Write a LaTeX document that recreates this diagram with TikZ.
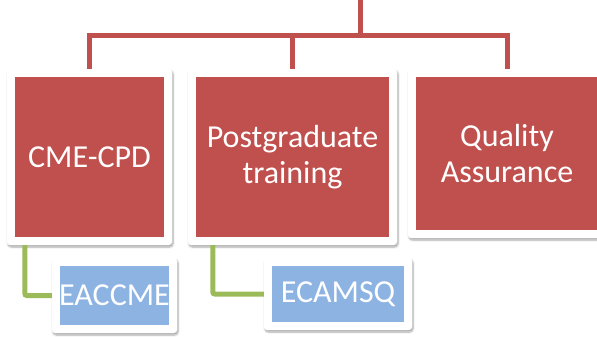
\documentclass[tikz,border=0pt]{standalone}
\usepackage{fontspec}
\setmainfont{Carlito}
\usetikzlibrary{shadows.blur}
\definecolor{boxred}{HTML}{C0504D}
\definecolor{boxblue}{HTML}{8DB3E2}
\definecolor{linkgreen}{HTML}{9BBB59}
\begin{document}
\begin{tikzpicture}[x=1pt, y=-1pt,
  framed/.style={fill=white, rounded corners=3pt, inner sep=0pt, align=center, text=white,
    font=\fontsize{32}{36}\selectfont,
    blur shadow={shadow xshift=1pt, shadow yshift=-2pt, shadow blur steps=6, shadow opacity=35},
    path picture={\fill[sharp corners, #1] ([shift={(8pt,-8pt)}]path picture bounding box.north west) rectangle ([shift={(-8pt,8pt)}]path picture bounding box.south east);}},
  redlink/.style={draw=boxred, line width=5pt},
  greenlink/.style={draw=linkgreen, line width=5pt, rounded corners=2pt}]
\useasboundingbox (0,0) rectangle (597,337);
\clip (0,0) rectangle (597,337);

% top level
\node[framed=boxred, minimum width=165pt, minimum height=176pt] (cme) at (89.5,157) {CME-CPD};
\node[framed=boxred, minimum width=209pt, minimum height=176pt] (pgt) at (292.5,157) {Postgraduate\\training};
\node[framed=boxred, minimum width=198pt, minimum height=169pt] (qa) at (507,153.5) {Quality\\Assurance};

% second level
\node[framed=boxblue, minimum width=125pt, minimum height=75pt] (eaccme) at (114.5,295.5) {EACCME};
\node[framed=boxblue, minimum width=148pt, minimum height=72pt] (ecamsq) at (338,294) {ECAMSQ};

\coordinate (root) at (360,0);
\draw[redlink] (root) -- ++(0,36) -| (cme.north);
\draw[redlink] (root) -- ++(0,36) -| (pgt.north);
\draw[redlink] (root) -- ++(0,36) -| (qa.north);

\draw[greenlink] ([xshift=18pt]cme.south west) |- (eaccme.west);
\draw[greenlink] ([xshift=25pt]pgt.south west) |- (ecamsq.west);
\end{tikzpicture}
\end{document}
